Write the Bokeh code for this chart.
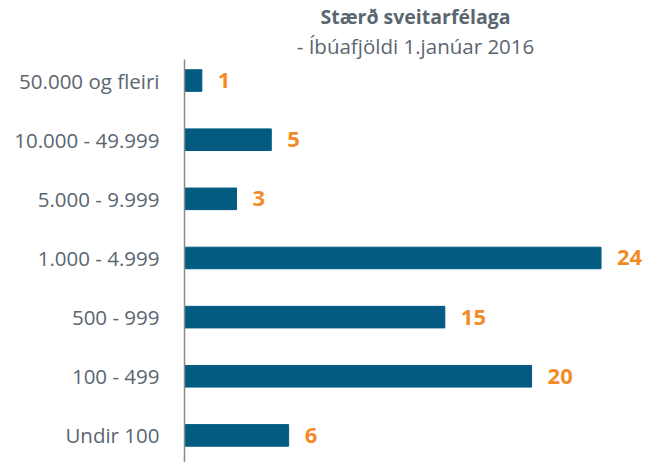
from bokeh.plotting import figure
from bokeh.models import Range1d, Title
from bokeh.embed import file_html
from bokeh.resources import INLINE
from bokeh.core.properties import value

categories = ["Undir 100", "100 - 499", "500 - 999", "1.000 - 4.999",
              "5.000 - 9.999", "10.000 - 49.999", "50.000 og fleiri"]
counts = [6, 20, 15, 24, 3, 5, 1]
title_text = "Stærð sveitarfélaga"
subtitle_text = "- Íbúafjöldi 1.janúar 2016"

ypos = list(range(len(categories)))

BAR = "#035B81"
ORANGE = "#F28C28"
GREY = "#5B6670"
FONT = "Open Sans"

p = figure(width=646, height=462, output_backend="svg", toolbar_location=None,
           x_range=Range1d(0, 26.62), y_range=Range1d(-0.458, 6.356),
           x_axis_location=None, min_border_left=184, min_border_top=47,
           min_border_bottom=0, min_border_right=0)
p.outline_line_color = None
p.grid.visible = False
p.background_fill_color = "white"

p.hbar(y=ypos, right=counts, left=0, height=0.365, color=BAR)

p.text(x=counts, y=ypos, text=[str(c) for c in counts], x_offset=16,
       text_baseline="middle", text_align="left", text_color=ORANGE,
       text_font=value(FONT), text_font_style="bold", text_font_size="22px")

ax = p.yaxis[0]
ax.ticker = ypos
ax.major_label_overrides = {i: c for i, c in zip(ypos, categories)}
ax.major_tick_line_color = None
ax.minor_tick_line_color = None
ax.axis_line_color = "#8A8A8A"
ax.axis_line_width = 1.5
ax.major_label_text_font = FONT
ax.major_label_text_font_size = "20.5px"
ax.major_label_text_color = GREY
ax.major_label_standoff = 19

p.add_layout(Title(text=subtitle_text, align="center", offset=7, standoff=0,
                   text_font=FONT, text_font_style="normal", text_line_height=0.9,
                   text_font_size="20.5px", text_color=GREY), "above")
p.add_layout(Title(text=title_text, align="center", offset=7, standoff=0,
                   text_font=FONT, text_font_style="bold", text_line_height=0.9,
                   text_font_size="19.5px", text_color=GREY), "above")

open("out.html", "w").write(file_html(p, INLINE))
